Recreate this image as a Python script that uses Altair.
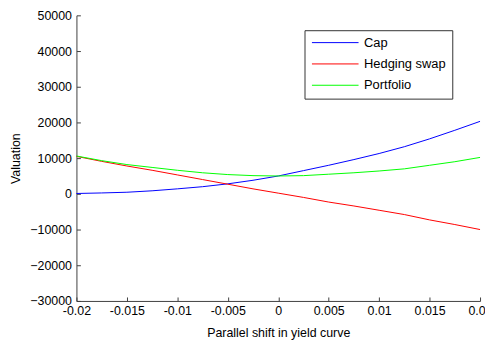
import altair as alt
import pandas as pd

shift = [-0.02, -0.0175, -0.015, -0.0125, -0.01, -0.0075, -0.005, -0.0025, 0.0,
         0.0025, 0.005, 0.0075, 0.01, 0.0125, 0.015, 0.0175, 0.02]
cap = [100, 250, 450, 850, 1400, 2000, 2800, 3800, 5000,
       6500, 8000, 9600, 11300, 13200, 15400, 17800, 20300]
swap = [10500, 9100, 7800, 6600, 5300, 4000, 2700, 1400, 200,
        -1000, -2300, -3400, -4600, -5800, -7300, -8600, -10000]
portfolio = [10600, 9300, 8200, 7400, 6600, 5900, 5400, 5100, 5000,
             5100, 5500, 5900, 6400, 7000, 8000, 9000, 10200]

series_names = ["Cap", "Hedging swap", "Portfolio"]
series_colors = ["#0000ff", "#ff0000", "#00ff00"]
x_ticks = [-0.02, -0.015, -0.01, -0.005, 0, 0.005, 0.01, 0.015, 0.02]
y_ticks = [-30000, -20000, -10000, 0, 10000, 20000, 30000, 40000, 50000]

rows = []
for name, vals in zip(series_names, [cap, swap, portfolio]):
    for s, v in zip(shift, vals):
        rows.append({"shift": s, "value": v, "series": name})
df = pd.DataFrame(rows)

W, H = 407, 288
FONT = "Liberation Sans"
AX = "#404040"

xscale = alt.Scale(domain=[-0.02, 0.02], nice=False, zero=False)
yscale = alt.Scale(domain=[-30000, 50000], nice=False, zero=False)

lines = alt.Chart(df).mark_line(strokeWidth=1).encode(
    x=alt.X("shift:Q", scale=xscale,
            axis=alt.Axis(values=x_ticks, title="Parallel shift in yield curve",
                          labelExpr="replace(format(datum.value, '~g'), '\u2212', '-')",
                          tickSize=0, grid=False, domainColor=AX,
                          labelFont=FONT, labelFontSize=12.5, labelColor="#000",
                          labelPadding=4, labelFlush=False,
                          titleFont=FONT, titleFontSize=12.5, titleFontWeight="normal",
                          titleColor="#000", titlePadding=9)),
    y=alt.Y("value:Q", scale=yscale,
            axis=alt.Axis(values=y_ticks, format="d", title="Valuation",
                          tickSize=0, grid=False, domainColor=AX,
                          labelFont=FONT, labelFontSize=12.5, labelColor="#000",
                          labelPadding=5, labelFlush=False,
                          titleFont=FONT, titleFontSize=12.5, titleFontWeight="normal",
                          titleColor="#000", titlePadding=7)),
    color=alt.Color("series:N",
                    scale=alt.Scale(domain=series_names, range=series_colors),
                    sort=series_names,
                    legend=alt.Legend(title=None, orient="none", legendX=230, legendY=15,
                                      symbolType="M-1,0H8.4", symbolSize=100,
                                      symbolStrokeWidth=1, labelFont=FONT,
                                      labelFontSize=13, labelColor="#000",
                                      fillColor="white", strokeColor="#333",
                                      padding=6, rowPadding=7.5, labelOffset=41)),
)

ticks = alt.Chart(df).mark_line(opacity=0).encode(
    x=alt.X("shift:Q", scale=xscale,
            axis=alt.Axis(orient="top", offset=-H, values=x_ticks, labels=False,
                          domain=False, grid=False, tickSize=4, tickColor=AX,
                          title=None)),
    y=alt.Y("value:Q", scale=yscale,
            axis=alt.Axis(orient="right", offset=-W, values=y_ticks, labels=False,
                          domain=False, grid=False, tickSize=4, tickColor=AX,
                          title=None)),
    detail="series:N",
)

chart = alt.layer(lines, ticks).resolve_axis(x="independent", y="independent").properties(
    width=W, height=H,
    autosize=alt.AutoSizeParams(type="none"),
    padding={"left": 69, "top": 6, "right": 5, "bottom": 40},
    background="white",
).configure_view(stroke=None)

chart.save("out.html", embed_options={"renderer": "svg", "actions": False})
